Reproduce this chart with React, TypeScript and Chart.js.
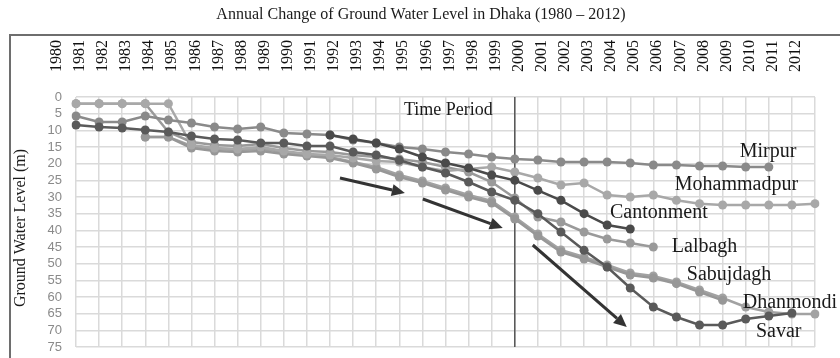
import React, { useEffect, useRef } from "react";
import { Chart, registerables } from "chart.js";
Chart.register(...registerables);

const years = [
  "1980", "1981", "1982", "1983", "1984", "1985", "1986", "1987", "1988", "1989",
  "1990", "1991", "1992", "1993", "1994", "1995", "1996", "1997", "1998", "1999",
  "2000", "2001", "2002", "2003", "2004", "2005", "2006", "2007", "2008", "2009",
  "2010", "2011", "2012",
];

const yTicks = [0, 5, 10, 15, 20, 25, 30, 35, 40, 45, 50, 55, 60, 65, 70, 75];

const mirpur = [5.7, 7.5, 7.5, 5.7, 6.9, 7.8, 9, 9.6, 9, 10.8, 11.1, 11.4, 12.9, 13.8, 15, 15.6, 16.5, 17.1, 18, 18.6, 18.9, 19.5, 19.5, 19.5, 19.8, 20.4, 20.4, 20.7, 20.7, 21, 21, null, null];
const mohammadpur = [2, 2, 2, 2, 2, 14.4, 15.3, 15.6, 15, 16.2, 17.1, 17.4, 18.3, 19.2, 19.5, 21, 22.2, 21.6, 21, 22.5, 24.3, 26.4, 25.8, 29.4, 30, 29.4, 31, 32, 32.4, 32.4, 32.4, 32.4, 32];
const cantonment = [null, null, null, null, null, null, null, null, null, null, null, 11.4, 12.6, 13.8, 15.6, 18, 19.8, 21.3, 23.4, 25, 28, 31, 35, 38.4, 39.6, null, null, null, null, null, null, null, null];
const lalbagh = [2, 2, 2, 2, 10.5, 13.5, 14.4, 14.7, 14.1, 15.3, 16.2, 16.5, 17.4, 18, 18.6, 19.5, 21, 22.5, 25.5, 30.3, 36, 37.5, 40.5, 42.6, 43.8, 45, null, null, null, null, null, null, null];
const sabujdagh = [null, null, null, 12, 12, 15.3, 16.2, 16.5, 16.2, 17.1, 17.7, 18.3, 19.8, 21.6, 24, 25.8, 27.9, 30, 31.8, 36.6, 41.7, 46.5, 48.6, 51, 53.4, 54.3, 56, 58.5, 61, null, null, null, null];
const dhanmondi = [null, null, null, 12, 12, 14.7, 15.6, 15.9, 15.6, 16.5, 17.4, 18, 19.5, 21, 23.4, 25.2, 27.3, 29.4, 31.2, 36, 41.1, 45.9, 48, 50.4, 52.8, 53.7, 55.5, 57.9, 60.3, 63, 64.5, 65.1, 65.1];
const savar = [8.4, 9, 9.3, 9.9, 10.5, 11.7, 12.6, 12.9, 13.8, 13.8, 14.7, 14.7, 16.5, 17.4, 19, 21, 22.8, 25.5, 28.5, 31, 35, 40.5, 46, 51, 57.3, 63, 66, 68.4, 68.4, 66.6, 65.7, 64.8, null];

const seriesNames = ["Mirpur", "Mohammadpur", "Cantonment", "Lalbagh", "Sabujdagh", "Dhanmondi", "Savar"];

// annotation anchors (category index, water level)
const labelIdx = [28.74, 25.93, 23.12, 25.8, 26.45, 28.87, 29.44];
const labelVal = [16.5, 26.4, 34.8, 45, 53.4, 61.8, 70.5];
const periodYearIdx = 19;
const periodText = "Time Period";
const arrowFrom = [[11.43, 24.3], [15.02, 30.6], [19.78, 44.4]];
const arrowTo = [[14.24, 28.8], [18.48, 39.3], [23.85, 69]];

const titleText = "Annual Change of Ground Water Level in Dhaka (1980 \u2013 2012)";
const yTitle = "Ground Water Level (m)";

const SERIF = '"Liberation Serif", "Times New Roman", serif';
const SANS = '"Liberation Sans", Arial, sans-serif';

function drawArrow(ctx: CanvasRenderingContext2D, x1: number, y1: number, x2: number, y2: number) {
  const ang = Math.atan2(y2 - y1, x2 - x1);
  const head = 13;
  const hw = 6;
  const bx = x2 - head * Math.cos(ang);
  const by = y2 - head * Math.sin(ang);
  ctx.beginPath();
  ctx.moveTo(x1, y1);
  ctx.lineTo(bx, by);
  ctx.stroke();
  ctx.beginPath();
  ctx.moveTo(x2, y2);
  ctx.lineTo(bx + hw * Math.sin(ang), by - hw * Math.cos(ang));
  ctx.lineTo(bx - hw * Math.sin(ang), by + hw * Math.cos(ang));
  ctx.closePath();
  ctx.fill();
}

const overlay = {
  id: "overlay",
  beforeDraw(chart: any) {
    const ctx = chart.ctx as CanvasRenderingContext2D;
    ctx.save();
    ctx.fillStyle = "#ffffff";
    ctx.fillRect(0, 0, chart.width, chart.height);
    ctx.strokeStyle = "#6e6e6e";
    ctx.lineWidth = 2;
    ctx.strokeRect(10, 35, 850, 340);
    ctx.fillStyle = "#1a1a1a";
    ctx.font = `16px ${SERIF}`;
    ctx.textAlign = "center";
    ctx.textBaseline = "middle";
    ctx.fillText(titleText, 421, 15);
    ctx.translate(21, 228);
    ctx.rotate(-Math.PI / 2);
    ctx.font = `16px ${SERIF}`;
    ctx.fillText(yTitle, 0, 0);
    ctx.restore();
  },
  beforeDatasetsDraw(chart: any) {
    const ctx = chart.ctx as CanvasRenderingContext2D;
    const xs = chart.scales.x;
    const ys = chart.scales.y;
    const x = xs.getPixelForValue(periodYearIdx);
    ctx.save();
    ctx.strokeStyle = "#555555";
    ctx.lineWidth = 1.5;
    ctx.beginPath();
    ctx.moveTo(x, ys.getPixelForValue(0));
    ctx.lineTo(x, ys.getPixelForValue(75));
    ctx.stroke();
    ctx.restore();
  },
  afterDatasetsDraw(chart: any) {
    const ctx = chart.ctx as CanvasRenderingContext2D;
    const xs = chart.scales.x;
    const ys = chart.scales.y;
    ctx.save();
    ctx.strokeStyle = "#333333";
    ctx.fillStyle = "#333333";
    ctx.lineWidth = 3;
    for (let i = 0; i < arrowFrom.length; i++) {
      drawArrow(
        ctx,
        xs.getPixelForValue(arrowFrom[i][0]), ys.getPixelForValue(arrowFrom[i][1]),
        xs.getPixelForValue(arrowTo[i][0]), ys.getPixelForValue(arrowTo[i][1])
      );
    }
    ctx.fillStyle = "#1a1a1a";
    ctx.textBaseline = "middle";
    ctx.textAlign = "right";
    ctx.font = `18px ${SERIF}`;
    ctx.fillText(periodText, xs.getPixelForValue(18.05), ys.getPixelForValue(3.9));
    ctx.textAlign = "left";
    ctx.font = `20px ${SERIF}`;
    for (let i = 0; i < seriesNames.length; i++) {
      ctx.fillText(seriesNames[i], xs.getPixelForValue(labelIdx[i]), ys.getPixelForValue(labelVal[i]));
    }
    ctx.restore();
  },
};

const seriesData = [mirpur, mohammadpur, cantonment, lalbagh, sabujdagh, dhanmondi, savar];
const seriesColors = ["#8a8a8a", "#a8a8a8", "#4a4a4a", "#9a9a9a", "#979797", "#a2a2a2", "#5a5a5a"];
const drawOrder = [3, 4, 1, 5, 6, 6, 2];

export default function App() {
  const ref = useRef<HTMLCanvasElement | null>(null);
  useEffect(() => {
    document.body.style.margin = "0";
    const canvas = ref.current;
    if (!canvas) return;
    const chart = new Chart(canvas, {
      type: "line",
      data: {
        labels: years,
        datasets: seriesNames.map((name, i) => ({
          label: name,
          data: seriesData[i],
          borderColor: seriesColors[i],
          backgroundColor: seriesColors[i],
          pointBackgroundColor: seriesColors[i],
          pointBorderWidth: 0,
          pointRadius: 4.5,
          borderWidth: 2.5,
          tension: 0,
          spanGaps: false,
          order: drawOrder[i],
        })),
      },
      options: {
        responsive: false,
        animation: false,
        devicePixelRatio: 1,
        layout: { padding: { left: 0, right: 25, top: 0, bottom: 11 } },
        plugins: { legend: { display: false }, tooltip: { enabled: false }, title: { display: false } },
        scales: {
          x: {
            type: "category",
            position: "top",
            offset: false,
            grid: { color: "#dadada", lineWidth: 1.5, drawTicks: false },
            border: { display: false },
            ticks: {
              autoSkip: false,
              minRotation: 90,
              maxRotation: 90,
              padding: 25,
              color: "#111111",
              font: { family: SERIF, size: 16 },
            },
            afterFit: (s: any) => {
              s.height = 97;
              s.paddingLeft = 0;
              s.paddingRight = 0;
            },
          },
          y: {
            type: "linear",
            reverse: true,
            min: 0,
            max: 75,
            grid: { color: "#dadada", lineWidth: 1.5, drawTicks: false },
            border: { display: false },
            afterBuildTicks: (s: any) => {
              s.ticks = yTicks.map((v) => ({ value: v }));
            },
            ticks: {
              autoSkip: false,
              stepSize: 5,
              padding: 14,
              color: "#8a8a8a",
              font: { family: SANS, size: 13 },
            },
            afterFit: (s: any) => {
              s.width = 76;
              s.paddingTop = 0;
              s.paddingBottom = 0;
            },
          },
        },
      },
      plugins: [overlay],
    });
    return () => chart.destroy();
  }, []);
  return (
    <div style={{ width: 840, height: 358 }}>
      <canvas ref={ref} width={840} height={358} style={{ display: "block" }} />
    </div>
  );
}
